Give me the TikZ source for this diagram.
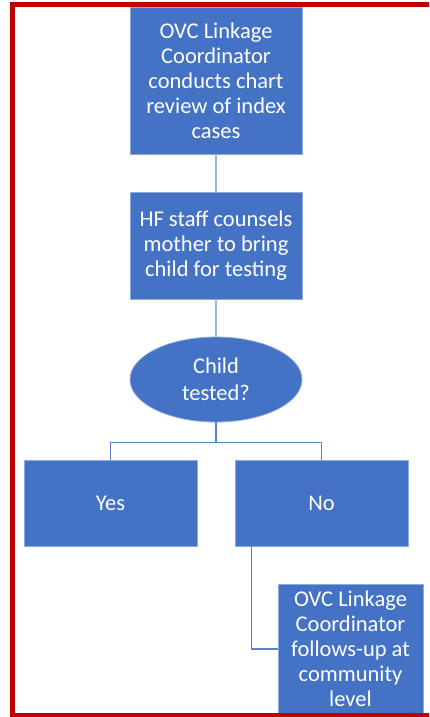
\documentclass[tikz,border=0pt]{standalone}
\usepackage{fontspec}
\setmainfont{Carlito}
\usetikzlibrary{shapes.geometric}
\definecolor{boxblue}{HTML}{4472C4}
\definecolor{boxedge}{HTML}{8EA9DB}
\definecolor{linkblue}{HTML}{9DB4E0}
\definecolor{treeblue}{HTML}{5B83CC}
\definecolor{framered}{HTML}{C00000}
\tikzset{
  stepbox/.style={rectangle, fill=boxblue, draw=boxedge, line width=0.8pt, text=white, align=center,
    font=\fontsize{22.5}{25}\selectfont, inner sep=0pt},
  decision/.style={ellipse, fill=boxblue, draw=boxedge, line width=0.8pt, text=white, align=center,
    font=\fontsize{22.5}{25}\selectfont, inner sep=0pt},
  link/.style={draw=linkblue, line width=1.8pt},
  tree/.style={draw=treeblue, line width=1.3pt},
}
\begin{document}
\begin{tikzpicture}[x=1pt,y=-1pt]
\useasboundingbox (0,0) rectangle (429,717);
\begin{scope}
\clip (0,0) rectangle (429,717);
\node[stepbox, minimum width=172pt, minimum height=147pt] (a) at (216,80.5)
  {OVC Linkage\\Coordinator\\conducts chart\\review of index\\cases};
\node[stepbox, minimum width=172pt, minimum height=107pt] (b) at (216,245.5)
  {HF staff counsels\\mother to bring\\child for testing};
\node[decision, minimum width=172pt, minimum height=85pt] (c) at (216,379.5)
  {Child\\[1.5pt]tested?};
\node[stepbox, minimum width=173pt, minimum height=86pt] (yes) at (110.5,503) {Yes};
\node[stepbox, minimum width=173pt, minimum height=86pt] (no) at (321.5,503) {No};
\node[stepbox, minimum width=145pt, minimum height=130pt] (f) at (350.5,649)
  {OVC Linkage\\Coordinator\\follows-up at\\community\\level};
\draw[link] (a.south) -- (b.north);
\draw[link] (b.south) -- (c.north);
\draw[tree] (c.south) -- ++(0,20) -| (yes.north);
\draw[tree] (c.south) -- ++(0,20) -| (no.north);
\draw[tree] ([xshift=17pt]no.south west) |- (f.west);
\draw[framered, line width=5pt] (12,5) rectangle (445,715);
\end{scope}
\end{tikzpicture}
\end{document}
